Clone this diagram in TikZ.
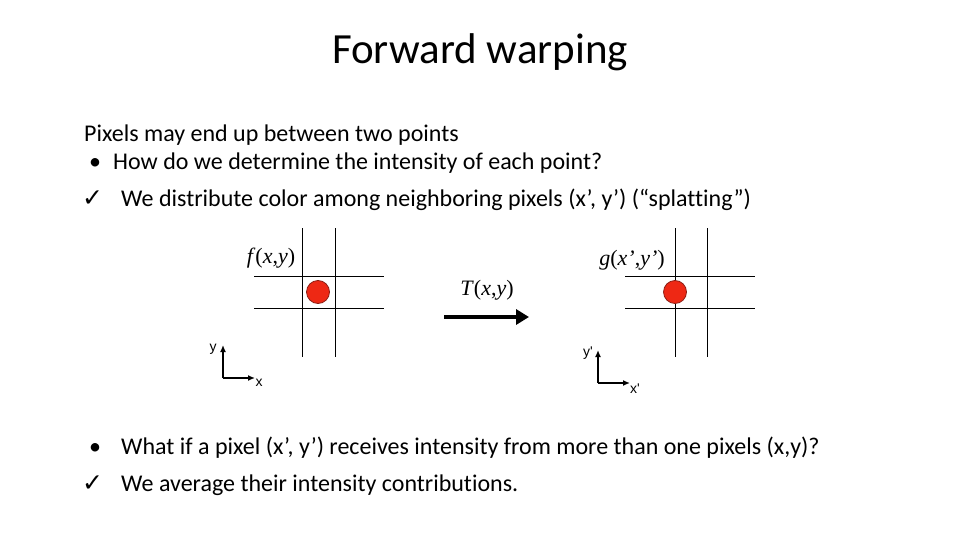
\documentclass[tikz,border=0pt]{standalone}
\usepackage{fontspec}
\setmainfont{Carlito}[Ligatures=NoCommon]
\newfontfamily\mathserif{Liberation Serif}
\newfontfamily\ticksym{DejaVu Sans}
\newfontfamily\axisfont{Liberation Sans}
\usetikzlibrary{arrows.meta}
\definecolor{dotred}{RGB}{238,40,20}
\definecolor{dotrim}{RGB}{140,30,20}

\begin{document}
\begin{tikzpicture}[x=1pt,y=-1pt,
    bodytext/.style={anchor=base west, inner sep=0pt, font=\fontsize{24}{28}\selectfont},
    ticktext/.style={anchor=base west, inner sep=0pt, font=\ticksym\fontsize{25}{28}\selectfont},
    gridline/.style={line width=1pt},
    pixdot/.style={circle, fill=dotred, draw=dotrim, line width=0.8pt, minimum size=23pt, inner sep=0pt},
    funclabel/.style={inner sep=0pt, font=\mathserif\fontsize{22}{26}\selectfont},
    axislabel/.style={inner sep=0pt, font=\axisfont\fontsize{14}{16}\selectfont},
    axisarrow/.style={line width=2pt, -{Latex[length=7pt,width=6pt]}}]
  \useasboundingbox (0,0) rectangle (960,540);

  % title and first lines
  \node[inner sep=0pt, font=\fontsize{43}{48}\selectfont] (title) at (480,52) {Forward warping};
  \node[bodytext] (intro) at (84,142) {Pixels may end up between two points};
  \node[bodytext] (dot1) at (89,170) {\textbullet};
  \node[bodytext] (q1) at (113,170) {How do we determine the intensity of each point?};
  \node[ticktext] (tick1) at (82,206) {✓};
  \node[bodytext] (a1) at (121,206) {We distribute color among neighboring pixels (x’, y’) (“splatting”)};

  % source grid
  \draw[gridline] (302,228) -- (302,357);
  \draw[gridline] (335,228) -- (335,357);
  \draw[gridline] (254,276) -- (384,276);
  \draw[gridline] (254,308) -- (384,308);
  \node[pixdot] (srcdot) at (318,292) {};
  \node[funclabel] (flabel) at (271,258) {\textit{f}(\textit{x},\textit{y})};

  % source axes
  \coordinate (o1) at (223,378);
  \coordinate (o1y) at (223,345);
  \coordinate (o1x) at (255,378);
  \draw[axisarrow] (o1) -- (o1y);
  \draw[axisarrow] (o1) -- (o1x);
  \node[axislabel] (ylab) at (213,349) {y};
  \node[axislabel] (xlab) at (259,383) {x};

  % transform arrow
  \coordinate (tA) at (444,317);
  \coordinate (tB) at (529,317);
  \draw[line width=4.5pt, -{Triangle[length=13pt,width=15pt]}] (tA) -- (tB);
  \node[funclabel] (tlabel) at (487,290) {\textit{T}(\textit{x},\textit{y})};

  % target grid
  \draw[gridline] (675,228) -- (675,357);
  \draw[gridline] (707,228) -- (707,357);
  \draw[gridline] (625,276) -- (755,276);
  \draw[gridline] (625,308) -- (755,308);
  \node[pixdot] (dstdot) at (675,292) {};
  \node[funclabel] (glabel) at (632,260) {\textit{g}(\textit{x’},\textit{y’})};

  % target axes
  \coordinate (o2) at (598,383);
  \coordinate (o2y) at (598,350);
  \coordinate (o2x) at (630,383);
  \draw[axisarrow] (o2) -- (o2y);
  \draw[axisarrow] (o2) -- (o2x);
  \node[axislabel] (yplab) at (588,353) {y'};
  \node[axislabel] (xplab) at (635,389) {x'};

  % closing lines
  \node[bodytext] (dot2) at (89,454) {\textbullet};
  \node[bodytext] (q2) at (121,454) {What if a pixel (x’, y’) receives intensity from more than one pixels (x,y)?};
  \node[ticktext] (tick2) at (82,491) {✓};
  \node[bodytext] (a2) at (121,491) {We average their intensity contributions.};
\end{tikzpicture}
\end{document}
